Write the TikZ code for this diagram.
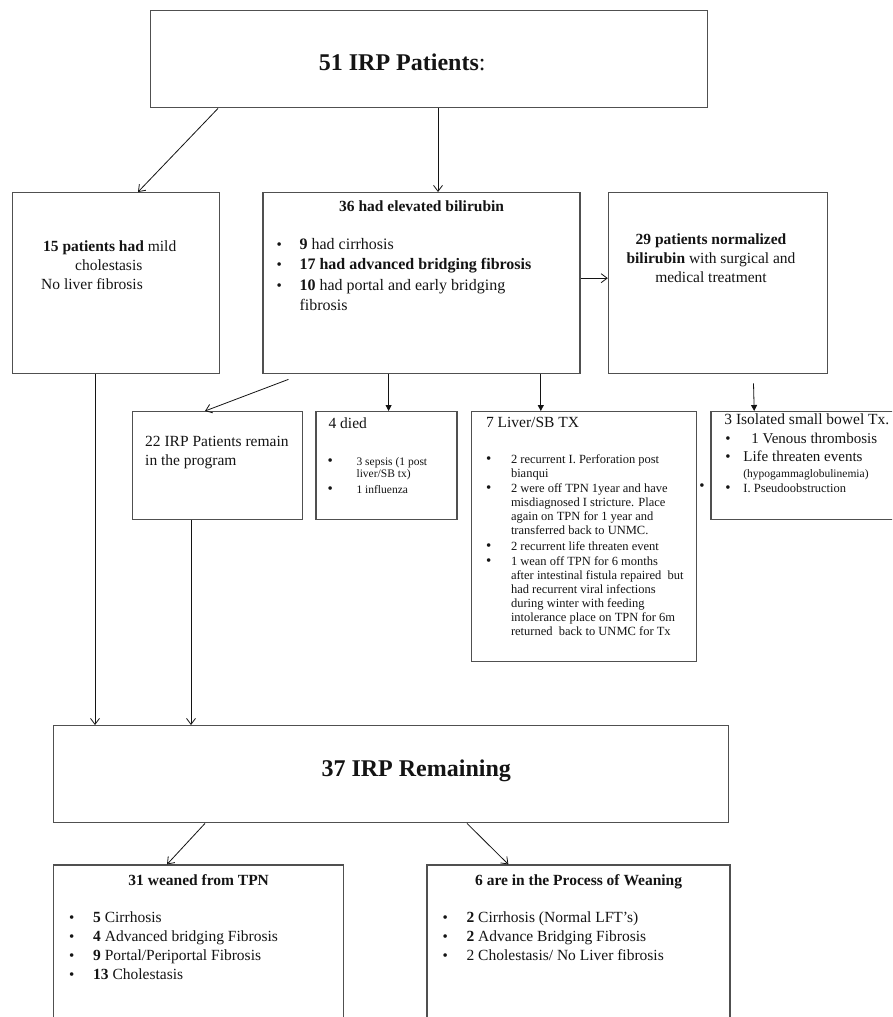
\documentclass[tikz,border=0pt]{standalone}
\usepackage{fontspec}
\setmainfont{Liberation Serif}
\usepackage{xcolor}
\usetikzlibrary{arrows.meta, positioning}
\definecolor{boxgray}{RGB}{80, 80, 80}
\definecolor{inkgray}{RGB}{20, 20, 20}
\newcommand{\bulitem}[1][23pt]{\makebox[#1][l]{\fontsize{15}{15}\selectfont\textbullet}}
\newcommand{\contline}[1][23pt]{\hspace*{#1}}

\begin{document}
\begin{tikzpicture}[
  x=1pt, y=-1pt,
  every node/.style={text=inkgray, font=\fontsize{15.5}{19}\selectfont},
  box/.style={
    draw=boxgray, line width=1.4pt, fill=white,
    inner sep=0pt, anchor=north west
  },
  txt/.style={inner sep=0pt, anchor=north west, align=left},
  headtxt/.style={inner sep=0pt, font=\fontsize{15.5}{19}\selectfont\bfseries},
  bigtxt/.style={inner sep=0pt, font=\fontsize{24}{28}\selectfont\bfseries},
  smalltxt/.style={font=\fontsize{12.5}{14}\selectfont},
  barb/.style={-{Straight Barb[length=6pt, width=9pt]}, line width=0.8pt, color=inkgray},
  tri/.style={-{Triangle[length=6pt, width=6pt]}, line width=0.8pt, color=inkgray}
]

  % page
  \path[use as bounding box, fill=white] (0,0) rectangle (892,1017);
  \clip (0,0) rectangle (892,1017);

  % top box
  \node[box, minimum width=557pt, minimum height=97pt] (allpat) at (150,10) {};
  \node[bigtxt] (allpattxt) at ([xshift=-27pt, yshift=-3pt]allpat.center) {51 IRP Patients\mdseries:};

  % second row
  \node[box, minimum width=207pt, minimum height=181pt] (mild) at (12,192) {};
  \node[box, minimum width=317pt, minimum height=181pt, right=42pt of mild.north east, anchor=north west] (bili) {};
  \node[box, minimum width=219pt, minimum height=181pt, right=27pt of bili.north east, anchor=north west] (normal) {};

  \node[txt, below right=49pt and 29pt of mild.north west] (mildtxt)
    {\hspace*{2pt}\textbf{15 patients had} mild\\ \hspace*{34pt}cholestasis\\ No liver fibrosis};

  \node[headtxt, below=9pt of bili.north] (bilihead) {36 had elevated bilirubin};
  \node[txt, font=\fontsize{16}{20.5}\selectfont, below right=46pt and 14pt of bili.north west] (bililist)
    {\bulitem\textbf{9} had cirrhosis\\
     \bulitem\textbf{17 had advanced bridging fibrosis}\\
     \bulitem\textbf{10} had portal and early bridging\\
     \contline fibrosis};

  \node[txt, align=center, below=42pt of normal.north, xshift=-7pt] (normaltxt)
    {\textbf{29 patients normalized}\\ \textbf{bilirubin} with surgical and\\ medical treatment};

  % third row
  \node[box, minimum width=170pt, minimum height=108pt] (remain) at (132,411) {};
  \node[box, minimum width=141pt, minimum height=108pt, right=12pt of remain.north east, anchor=north west] (died) {};
  \node[box, minimum width=225pt, minimum height=250pt, right=13pt of died.north east, anchor=north west] (liver) {};
  \node[box, minimum width=184pt, minimum height=108pt, right=13pt of liver.north east, anchor=north west] (bowel) {};

  \node[txt, below right=25pt and 13pt of remain.north west] (remaintxt)
    {22 IRP Patients remain\\ in the program};

  \node[txt, below right=7pt and 13pt of died.north west] (diedhead) {4 died};
  \node[txt, font=\fontsize{11.5}{12.5}\selectfont, below right=46pt and 12pt of died.north west] (diedlist)
    {\bulitem[29pt]3 sepsis (1 post\\ \contline[29pt]liver/SB tx)\\[3pt]
     \bulitem[29pt]1 influenza};

  \node[txt, below right=6pt and 15pt of liver.north west] (liverhead) {7 Liver/SB TX};
  \node[txt, smalltxt, below right=43pt and 15pt of liver.north west] (liverlist)
    {\bulitem[25pt]2 recurrent I. Perforation post\\ \contline[25pt]bianqui\\[1.5pt]
     \bulitem[25pt]2 were off TPN 1year and have\\ \contline[25pt]misdiagnosed I stricture. Place\\
     \contline[25pt]again on TPN for 1 year and\\ \contline[25pt]transferred back to UNMC.\\[1.5pt]
     \bulitem[25pt]2 recurrent life threaten event\\[1.5pt]
     \bulitem[25pt]1 wean off TPN for 6 months\\ \contline[25pt]after intestinal fistula repaired\ \ but\\
     \contline[25pt]had recurrent viral infections\\ \contline[25pt]during winter with feeding\\
     \contline[25pt]intolerance place on TPN for 6m\\ \contline[25pt]returned\ \ back to UNMC for Tx};

  \node[txt, below right=3pt and 14pt of bowel.north west] (bowelhead) {3 Isolated small bowel Tx.};
  \node[txt, font=\fontsize{15}{18}\selectfont, below right=22pt and 15pt of bowel.north west] (bowellist)
    {\bulitem[26pt]1 Venous thrombosis\\
     \bulitem[18pt]Life threaten events\\[-2pt]
     \contline[18pt]{\fontsize{11.5}{13}\selectfont(hypogammaglobulinemia)}\\[-3pt]
     \bulitem[18pt]{\fontsize{12.5}{14}\selectfont I. Pseudoobstruction}};
  \node[inner sep=0pt, font=\fontsize{15}{15}\selectfont] (stray) at (702,487) {\textbullet};

  % remaining
  \node[box, minimum width=675pt, minimum height=97pt] (remaining) at (53,725) {};
  \node[bigtxt] (remainingtxt) at ([xshift=25pt, yshift=3pt]remaining.center) {37 IRP Remaining};

  % bottom row
  \node[box, minimum width=290pt, minimum height=170pt, below=41pt of remaining.south west, anchor=north west] (weaned) {};
  \node[box, minimum width=303pt, minimum height=170pt, right=82pt of weaned.north east, anchor=north west] (weaning) {};

  \node[headtxt, below=10pt of weaned.north] (weanedhead) {31 weaned from TPN};
  \node[txt, below right=47pt and 16pt of weaned.north west] (weanedlist)
    {\bulitem[24pt]\textbf{5} Cirrhosis\\
     \bulitem[24pt]\textbf{4} Advanced bridging Fibrosis\\
     \bulitem[24pt]\textbf{9} Portal/Periportal Fibrosis\\
     \bulitem[24pt]\textbf{13} Cholestasis};

  \node[headtxt, below=10pt of weaning.north] (weaninghead) {6 are in the Process of Weaning};
  \node[txt, below right=47pt and 16pt of weaning.north west] (weaninglist)
    {\bulitem[24pt]\textbf{2} Cirrhosis (Normal LFT's)\\
     \bulitem[24pt]\textbf{2} Advance Bridging Fibrosis\\
     \bulitem[24pt]2 Cholestasis/ No Liver fibrosis};

  % arrows from the top box
  \draw[barb] ([xshift=68pt]allpat.south west) -- ([xshift=126pt]mild.north west);
  \draw[barb] ([xshift=288pt]allpat.south west) -- ([xshift=288pt]allpat.south west |- bili.north);

  % arrows from the second row
  \draw[barb] ([yshift=5pt]bili.east) -- ([yshift=5pt]bili.east -| normal.west);
  \draw[barb] ([shift={(26pt,-5pt)}]bili.south west) -- ([xshift=73pt]remain.north west);
  \draw[tri] ([xshift=2pt]died.north |- bili.south) -- ([xshift=2pt]died.north);
  \draw[tri] ([xshift=70pt]liver.north west |- bili.south) -- ([xshift=70pt]liver.north west);
  \draw[tri] ([shift={(35.5pt,-9pt)}]normal.south) -- ([xshift=44pt]bowel.north west);

  % arrows into the remaining box
  \draw[barb] ([xshift=83pt]mild.south west) -- ([xshift=83pt]mild.south west |- remaining.north);
  \draw[barb] ([xshift=59pt]remain.south west) -- ([xshift=59pt]remain.south west |- remaining.north);

  % arrows to the bottom row
  \draw[barb] ([xshift=152pt]remaining.south west) -- ([xshift=114pt]weaned.north west);
  \draw[barb] ([xshift=414pt]remaining.south west) -- ([xshift=82pt]weaning.north west);

\end{tikzpicture}
\end{document}
